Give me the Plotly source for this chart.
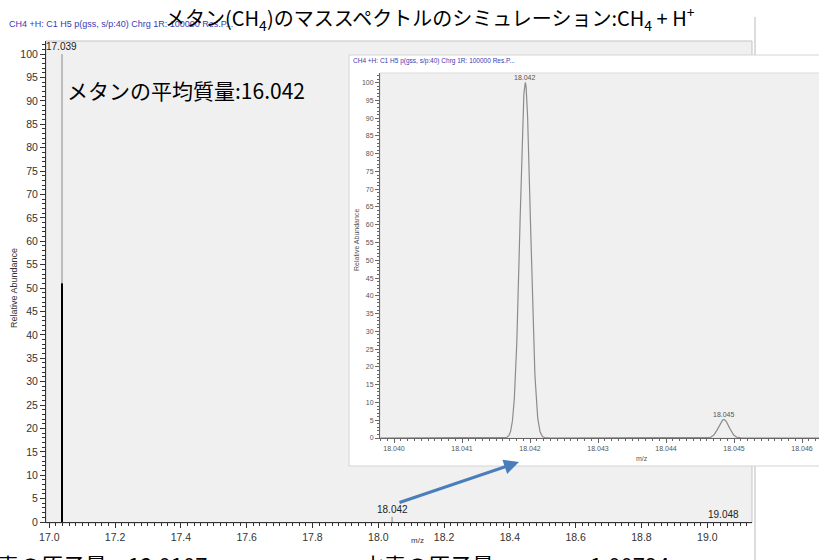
import numpy as np
import plotly.graph_objects as go

W, H = 819, 560

# ---- data -------------------------------------------------------------
# centroid spectrum of CH4 + H+ (CH5+ and its isotopologues)
main_mz = [17.0386, 18.0419, 18.0449, 19.0482]
main_abund = [100.0, 1.1, 0.06, 0.0006]
main_labels = ["17.039", "18.042", "", "19.048"]
main_dark_part = 51.0          # lower part of the base peak drawn in black

# zoomed profile around m/z 18.042 (13CH5+ and CH4D+), scaled to 100
zoom_mz = [18.04193, 18.04485]
zoom_abund = [100.0, 5.2]
zoom_labels = ["18.042", "18.045"]
resolution = 100000

main_xticks = [17.0, 17.2, 17.4, 17.6, 17.8, 18.0, 18.2, 18.4, 18.6, 18.8, 19.0]
zoom_xticks = [18.040, 18.041, 18.042, 18.043, 18.044, 18.045, 18.046]
y_ticks = list(range(0, 101, 5))

header = "CH4 +H: C1 H5 p(gss, s/p:40) Chrg 1R: 100000 Res.P..."
title = "メタン(CH<sub>4</sub>)のマススペクトルのシミュレーション:CH<sub>4</sub> + H<sup>+</sup>"
avg_mass_text = "メタンの平均質量:16.042"
carbon_label, carbon_mass = "炭素の原子量", "12.0107"
hydrogen_label, hydrogen_mass = "水素の原子量", "1.00794"


def px(x):
    return x / W


def py(y):
    return 1 - y / H


LAT = "Liberation Sans, Arial, sans-serif"
JP = "Noto Sans CJK JP, sans-serif"
BLUE = "#3a3ab4"

fig = go.Figure()

# ---- main spectrum: stick peaks ---------------------------------------
sx, sy = [], []
for m, a in zip(main_mz, main_abund):
    sx += [m, m, None]
    sy += [0, a, None]
fig.add_trace(go.Scatter(x=sx, y=sy, mode="lines", xaxis="x", yaxis="y",
                         line=dict(color="#8a8a8a", width=1), hoverinfo="skip"))
fig.add_trace(go.Scatter(x=[main_mz[0], main_mz[0]], y=[0, main_dark_part],
                         mode="lines", xaxis="x", yaxis="y",
                         line=dict(color="#000000", width=2), hoverinfo="skip"))

# ---- zoomed profile: gaussian peaks at the stated resolution ----------
prof_x = np.linspace(18.0398, 18.0463, 3000)
prof_y = np.zeros_like(prof_x)
for m, a in zip(zoom_mz, zoom_abund):
    sigma = (m / resolution) / 2.3548
    prof_y += a * np.exp(-0.5 * ((prof_x - m) / sigma) ** 2)
fig.add_trace(go.Scatter(x=prof_x, y=prof_y, mode="lines", xaxis="x2", yaxis="y2",
                         line=dict(color="#8c8c8c", width=1.2), hoverinfo="skip"))

# ---- annotations ------------------------------------------------------
ann = []


def text(x, y, s, size, color="#000", font=LAT, xanchor="center", yanchor="middle", **kw):
    ann.append(dict(x=px(x), y=py(y), xref="paper", yref="paper", text=s,
                    showarrow=False, xanchor=xanchor, yanchor=yanchor,
                    font=dict(size=size, color=color, family=font), **kw))


text(7, 24, header, 9, BLUE, xanchor="left")
text(430, 18, title, 20, "#000", JP)
text(65, 90, avg_mass_text, 21, "#000", JP, xanchor="left")
text(14, 288, "Relative Abundance", 9, "#333", textangle=-90)
text(418, 540, "m/z", 8, "#333")

for m, a, lab in zip(main_mz, main_abund, main_labels):
    if lab:
        ann.append(dict(x=m, y=a, xref="x", yref="y", text=lab, showarrow=False,
                        yanchor="bottom", yshift=0, font=dict(size=10, color="#222", family=LAT)))

# inset texts
text(351, 61, header, 6.5, BLUE, xanchor="left")
text(356, 240, "Relative Abundance", 7, "#555", textangle=-90)
text(642, 458, "m/z", 7, "#555")
for m, a, lab in zip(zoom_mz, zoom_abund, zoom_labels):
    ann.append(dict(x=m, y=a, xref="x2", yref="y2", text=lab, showarrow=False,
                    yanchor="bottom", font=dict(size=7, color="#555", family=LAT)))

# arrow from the main-spectrum label to the zoomed view
ann.append(dict(x=px(519), y=py(462), xref="paper", yref="paper", text="",
                showarrow=True, ax=-121, ay=41, arrowhead=2, arrowsize=1,
                arrowwidth=3, arrowcolor="#4a7ebb"))

# atomic masses along the bottom
text(109, 564, carbon_label, 22, "#000", JP, xanchor="right")
text(126, 564, carbon_mass, 22, "#000", JP, xanchor="left")
text(360, 564, hydrogen_label, 22, "#000", JP, xanchor="left")
text(588, 564, hydrogen_mass, 22, "#000", JP, xanchor="left")

# ---- frames and backgrounds -------------------------------------------
shapes = [
    dict(type="line", xref="paper", yref="paper", x0=px(755), x1=px(755),
         y0=py(560), y1=py(17), line=dict(color="#dcdcdc", width=2), layer="below"),
    dict(type="rect", xref="paper", yref="paper", x0=px(46), x1=px(752),
         y0=py(523), y1=py(41), fillcolor="#f0f0f0",
         line=dict(color="#c4c4c4", width=1), layer="below"),
    dict(type="rect", xref="paper", yref="paper", x0=px(349), x1=px(830),
         y0=py(466), y1=py(55), fillcolor="#ffffff",
         line=dict(color="#d4d4d4", width=1), layer="below"),
    dict(type="rect", xref="paper", yref="paper", x0=px(380), x1=px(830),
         y0=py(438), y1=py(73), fillcolor="#f0f0f0",
         line=dict(color="#dadada", width=1), layer="below"),
]

axis_common = dict(showgrid=False, zeroline=False, showline=True, ticks="outside",
                   automargin=False)

fig.update_layout(
    width=W, height=H, margin=dict(l=0, r=0, t=0, b=0, pad=0, autoexpand=False),
    paper_bgcolor="#ffffff", plot_bgcolor="rgba(0,0,0,0)",
    showlegend=False, annotations=ann, shapes=shapes,
    xaxis=dict(**axis_common, domain=[px(46), px(752)], range=[16.990, 19.136],
               anchor="y", tickvals=main_xticks, ticktext=[f"{v:.1f}" for v in main_xticks],
               ticklen=5, tickcolor="#333", linecolor="#333", linewidth=1,
               tickfont=dict(size=10.5, color="#333", family=LAT),
               minor=dict(dtick=0.02, ticks="outside", ticklen=3, tickcolor="#333")),
    yaxis=dict(**axis_common, domain=[py(522), py(41)], range=[0, 102.8],
               anchor="x", tickvals=y_ticks, ticklen=5, tickcolor="#333",
               linecolor="#333", linewidth=1,
               tickfont=dict(size=10.5, color="#333", family=LAT),
               minor=dict(dtick=1, ticks="outside", ticklen=3, tickcolor="#333")),
    xaxis2=dict(**axis_common, domain=[px(380), 1], range=[18.039794, 18.04625],
                anchor="y2", tickvals=zoom_xticks, ticktext=[f"{v:.3f}" for v in zoom_xticks],
                ticklen=4, tickcolor="#666", linecolor="#666", linewidth=1,
                tickfont=dict(size=7, color="#555", family=LAT),
                minor=dict(dtick=0.0001, ticks="outside", ticklen=2, tickcolor="#666")),
    yaxis2=dict(**axis_common, domain=[py(438), py(73)], range=[0, 102.7],
                anchor="x2", tickvals=y_ticks, ticklen=4, tickcolor="#666",
                linecolor="#666", linewidth=1,
                tickfont=dict(size=7, color="#555", family=LAT),
                minor=dict(dtick=1, ticks="outside", ticklen=2, tickcolor="#666")),
)

fig.write_html("out.html")
